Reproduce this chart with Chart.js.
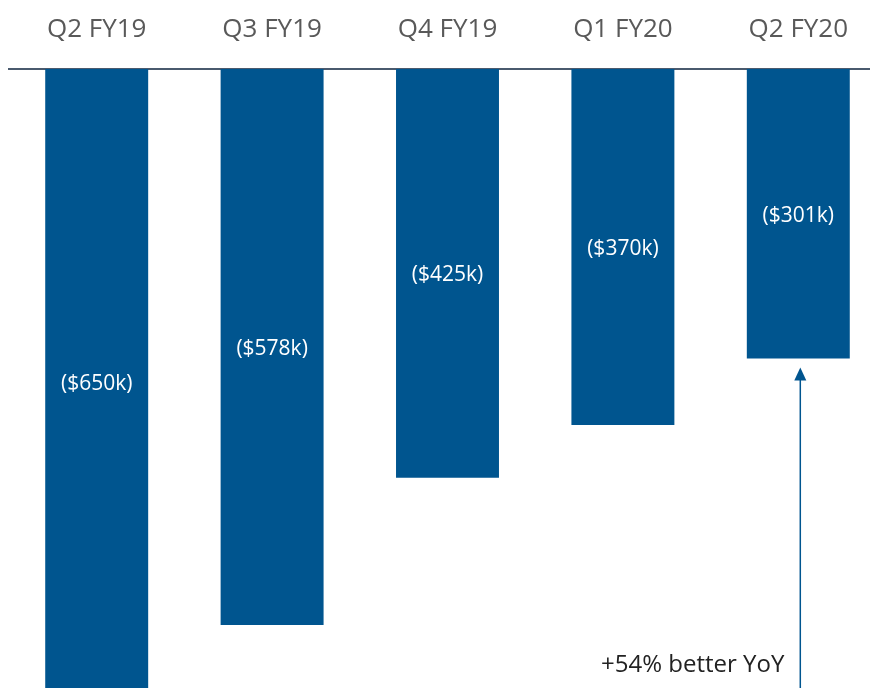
<!DOCTYPE html>
<html><head><meta charset="utf-8">
<script src="https://cdn.jsdelivr.net/npm/chart.js@4.4.1/dist/chart.umd.min.js"></script>
<style>
html,body{margin:0;padding:0;background:#fff;}
#wrap{width:870px;height:688px;overflow:hidden;position:relative;}
#box{width:895px;height:688px;position:absolute;left:0;top:0;}
</style></head>
<body><div id="wrap"><div id="box"><canvas id="c"></canvas></div></div>
<script>
const categories = ["Q2 FY19","Q3 FY19","Q4 FY19","Q1 FY20","Q2 FY20"];
const values = [-650,-578,-425,-370,-301];
const valueLabels = ["($650k)","($578k)","($425k)","($370k)","($301k)"];
const annotationText = "+54% better YoY";
const barColor = "#00558f";
const FONT = "'Open Sans', sans-serif";

const labelPlugin = {
  id:'labels',
  afterDatasetsDraw(chart){
    const ctx = chart.ctx, x = chart.scales.x, y = chart.scales.y;
    ctx.save();
    ctx.fillStyle = '#ffffff';
    ctx.font = "21px " + FONT;
    ctx.textAlign = 'center';
    ctx.textBaseline = 'middle';
    values.forEach((v,i)=>{
      ctx.fillText(valueLabels[i], x.getPixelForValue(i), y.getPixelForValue(v/2) + 2);
    });
    // arrow under last bar
    const last = values.length-1;
    const ax = x.getPixelForValue(last) + 2;
    const tipY = y.getPixelForValue(values[last]) + 9;
    const bottom = chart.chartArea.bottom;
    ctx.strokeStyle = barColor;
    ctx.fillStyle = barColor;
    ctx.lineWidth = 1.5;
    ctx.beginPath();
    ctx.moveTo(ax, bottom);
    ctx.lineTo(ax, tipY + 10);
    ctx.stroke();
    ctx.beginPath();
    ctx.moveTo(ax, tipY);
    ctx.lineTo(ax-6, tipY+13);
    ctx.lineTo(ax+6, tipY+13);
    ctx.closePath();
    ctx.fill();
    ctx.fillStyle = '#222222';
    ctx.font = "24px " + FONT;
    ctx.textAlign = 'right';
    ctx.textBaseline = 'alphabetic';
    ctx.fillText(annotationText, ax - 16, bottom - 16);
    ctx.restore();
  }
};

new Chart(document.getElementById('c'), {
  type:'bar',
  data:{labels:categories, datasets:[{data:values, backgroundColor:barColor, borderWidth:0,
    barPercentage:0.587, categoryPercentage:1}]},
  options:{
    responsive:true, maintainAspectRatio:false, animation:false,
    layout:{padding:{left:9,right:9,top:0,bottom:0}},
    plugins:{legend:{display:false}, tooltip:{enabled:false}},
    scales:{
      x:{position:'top', grid:{display:false, drawTicks:false},
        border:{display:true, color:'#4a5a6e', width:2},
        ticks:{color:'#595959', font:{family:FONT, size:26}, padding:24},
        afterFit(s){ s.height = 69; }
      },
      y:{display:false, min:-643.5, max:0}
    }
  },
  plugins:[labelPlugin]
});
</script></body></html>
